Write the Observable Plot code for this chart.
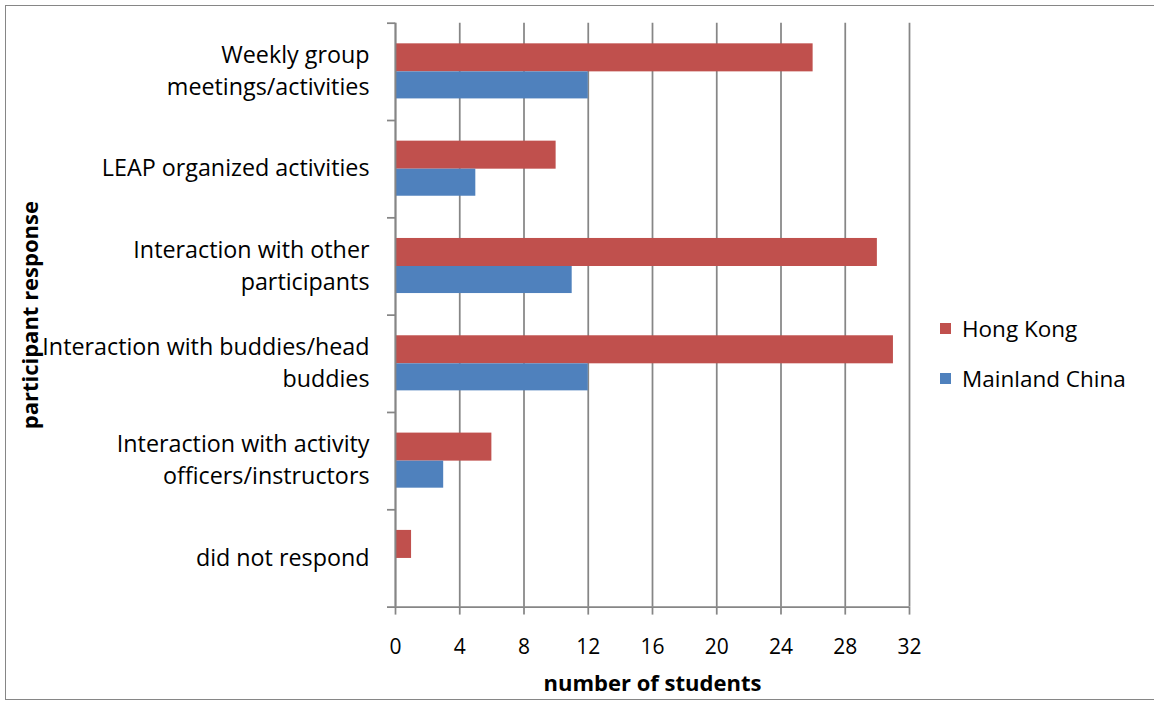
<!DOCTYPE html>
<html><head><meta charset="utf-8">
<script src="https://cdn.jsdelivr.net/npm/d3@7"></script>
<script src="https://cdn.jsdelivr.net/npm/@observablehq/plot@0.6"></script>
<style>
html,body{margin:0;padding:0;background:#fff;}
#wrap{position:relative;width:1154px;height:701px;overflow:hidden;font-family:"Open Sans",sans-serif;}
#border{position:absolute;left:5px;top:5px;width:1200px;height:695px;border:1.5px solid #868686;box-sizing:border-box;pointer-events:none}
#legend{position:absolute;left:940px;top:314px;font-size:22.5px;color:#000;font-family:"Open Sans",sans-serif}
.item{display:flex;align-items:center;height:28px;margin-bottom:22px}
.sw{width:11px;height:11px;margin-right:11px;flex:none}
</style></head><body><div id="wrap"><div id="border"></div></div>
<script>
const categories = [
  "Weekly group\nmeetings/activities",
  "LEAP organized activities",
  "Interaction with other\nparticipants",
  "Interaction with buddies/head\nbuddies",
  "Interaction with activity\nofficers/instructors",
  "did not respond"
];
const hongKong = [26, 10, 30, 31, 6, 1];
const mainlandChina = [12, 5, 11, 12, 3, 0];
const seriesNames = ["Hong Kong", "Mainland China"];
const seriesColors = ["#C0504D", "#4F81BD"];
const xTicks = [0, 4, 8, 12, 16, 20, 24, 28, 32];
const xTitle = "number of students";
const yTitle = "participant response";

const rows = [];
categories.forEach((c, i) => {
  rows.push({cat: c, index: i, series: seriesNames[0], value: hongKong[i]});
  rows.push({cat: c, index: i, series: seriesNames[1], value: mainlandChina[i]});
});
const labelRows = categories.map((c, i) => ({label: c, pos: i + 0.5}));
const boundaries = d3.range(categories.length + 1);

const grey = "#868686";
const TICK_FS = 21;
const LABEL_FS = 23.3;
const TITLE_FS = 22;

const plot = Plot.plot({
  width: 1154,
  height: 701,
  marginLeft: 395,
  marginRight: 245,
  marginTop: 22.7,
  marginBottom: 94.4,
  style: {fontFamily: "'Open Sans', sans-serif", background: "transparent", overflow: "visible"},
  x: {domain: [0, 32]},
  y: {domain: [0, categories.length], reverse: true},
  color: {domain: seriesNames, range: seriesColors},
  marks: [
    Plot.gridX(xTicks, {stroke: grey, strokeOpacity: 1, strokeWidth: 1.75}),
    Plot.rect(rows, {
      x1: () => 0,
      x2: "value",
      y1: d => d.index + (d.series === seriesNames[0] ? 0.212 : 0.5),
      y2: d => d.index + (d.series === seriesNames[0] ? 0.5 : 0.778),
      fill: "series"
    }),
    Plot.ruleX([0], {stroke: grey, strokeWidth: 1.75}),
    Plot.ruleY([categories.length], {stroke: grey, strokeWidth: 1.75}),
    Plot.axisY(boundaries, {tickSize: 8, tickFormat: () => "", label: null, stroke: grey, strokeWidth: 1.75, strokeOpacity: 1}),
    Plot.axisX(xTicks, {tickSize: 8, tickPadding: 24, fontSize: TICK_FS, label: null, stroke: grey, strokeWidth: 1.75, strokeOpacity: 1, fill: "#000"}),
    Plot.text(labelRows, {
      x: () => 0, y: "pos", text: "label", textAnchor: "end", dx: -26, dy: -3,
      fontSize: LABEL_FS, lineHeight: 1.37, fill: "#000", ariaLabel: "catlabels"
    }),
    Plot.text([xTitle], {frameAnchor: "bottom", lineAnchor: "middle", textAnchor: "middle", dy: 76.4, fontSize: TITLE_FS, fontWeight: "bold", fill: "#000"}),
    Plot.text([yTitle], {frameAnchor: "left", textAnchor: "middle", lineAnchor: "middle", dx: -365, rotate: -90, fontSize: TITLE_FS, fontWeight: "bold", fill: "#000"})
  ]
});
plot.style.position = "absolute";
plot.style.left = "0px";
plot.style.top = "0px";
const wrap = document.getElementById("wrap");
wrap.appendChild(plot);

// center each wrapped line of the category labels within its block (as in the original)
plot.querySelectorAll('g[aria-label="catlabels"] text').forEach(t => {
  const spans = Array.from(t.querySelectorAll("tspan"));
  if (spans.length < 2) return;
  const widths = spans.map(s => s.getComputedTextLength());
  const maxW = Math.max(...widths);
  spans.forEach((s, k) => s.setAttribute("dx", -(maxW - widths[k]) / 2));
});

// legend from the plot's color scale
const color = plot.scale("color");
const legend = document.createElement("div");
legend.id = "legend";
color.domain.forEach((name, k) => {
  const item = document.createElement("div");
  item.className = "item";
  const sw = document.createElement("div");
  sw.className = "sw";
  sw.style.background = color.range[k];
  const lab = document.createElement("span");
  lab.textContent = name;
  item.appendChild(sw);
  item.appendChild(lab);
  legend.appendChild(item);
});
wrap.appendChild(legend);
</script>
</body></html>
